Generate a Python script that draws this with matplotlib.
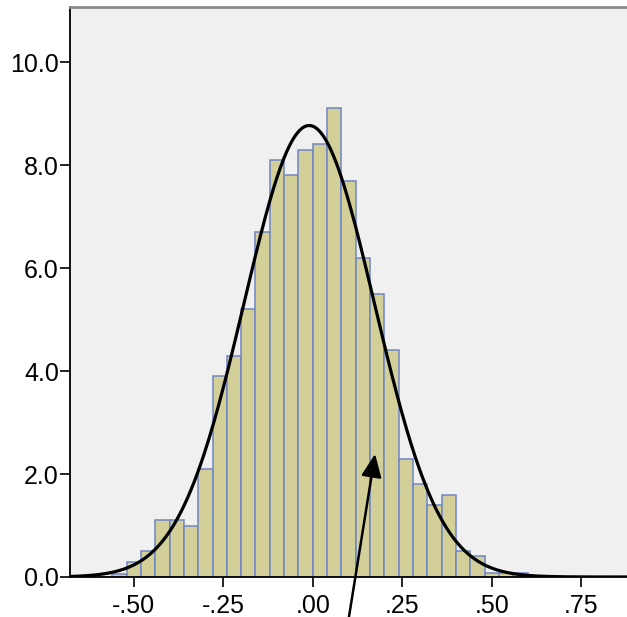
import numpy as np
import matplotlib
matplotlib.use("Agg")
import matplotlib.pyplot as plt

# histogram heights in percent (bins of width .04 starting at -.56)
percent = [0.05, 0.3, 0.5, 1.1, 1.1, 1.0, 2.1, 3.9, 4.3, 5.2, 6.7, 8.1, 7.8, 8.3,
           8.4, 9.1, 7.7, 6.2, 5.5, 4.4, 2.3, 1.8, 1.4, 1.6, 0.5, 0.4, 0.08, 0.08, 0.08]
first_edge = -0.56
bin_width = 0.04
bin_left = first_edge + bin_width * np.arange(len(percent))

# fitted normal curve parameters
mu = -0.01
sigma = 0.182

x_ticks = [-0.50, -0.25, 0.00, 0.25, 0.50, 0.75]
x_labels = ["-.50", "-.25", ".00", ".25", ".50", ".75"]
y_ticks = [0, 2, 4, 6, 8, 10]
y_labels = ["0.0", "2.0", "4.0", "6.0", "8.0", "10.0"]

plt.rcParams['font.family'] = ['Liberation Sans', 'DejaVu Sans']

fig = plt.figure(figsize=(6.27, 6.17), dpi=100)
ax = fig.add_axes([70/627, 1-577/617, 1-70/627+0.01, (577-7)/617])
ax.set_facecolor('#F0F0F0')

ax.bar(bin_left, percent, width=bin_width, align='edge',
       color='#D3CF99', edgecolor='#6F86C4', linewidth=1.1, zorder=2)

xs = np.linspace(-0.7, 0.9, 500)
ys = 100 * bin_width * np.exp(-0.5*((xs-mu)/sigma)**2) / (sigma*np.sqrt(2*np.pi))
ax.plot(xs, ys, color='black', lw=2.3, zorder=3)

ax.annotate("", xy=(0.174, 2.39), xytext=(0.097, -0.95),
            arrowprops=dict(arrowstyle='-|>,head_length=0.5,head_width=0.22', color='black', lw=1.8,
                            mutation_scale=28, shrinkA=0, shrinkB=0),
            annotation_clip=False, zorder=4)

ax.set_xlim(-0.678, 0.895)
ax.set_ylim(0, 11.07)
ax.set_xticks(x_ticks)
ax.set_xticklabels(x_labels)
ax.set_yticks(y_ticks)
ax.set_yticklabels(y_labels)
ax.tick_params(axis='x', length=7, width=1.2, pad=5, labelsize=18, colors='black')
ax.tick_params(axis='y', length=7, width=1.2, pad=1, labelsize=18, colors='black')

ax.spines['left'].set_color('black')
ax.spines['left'].set_linewidth(1.3)
ax.spines['bottom'].set_color('black')
ax.spines['bottom'].set_linewidth(1.3)
ax.spines['top'].set_color('#8A8A8A')
ax.spines['top'].set_linewidth(2.0)
ax.spines['right'].set_visible(False)

fig.savefig("out.png", dpi=100)
